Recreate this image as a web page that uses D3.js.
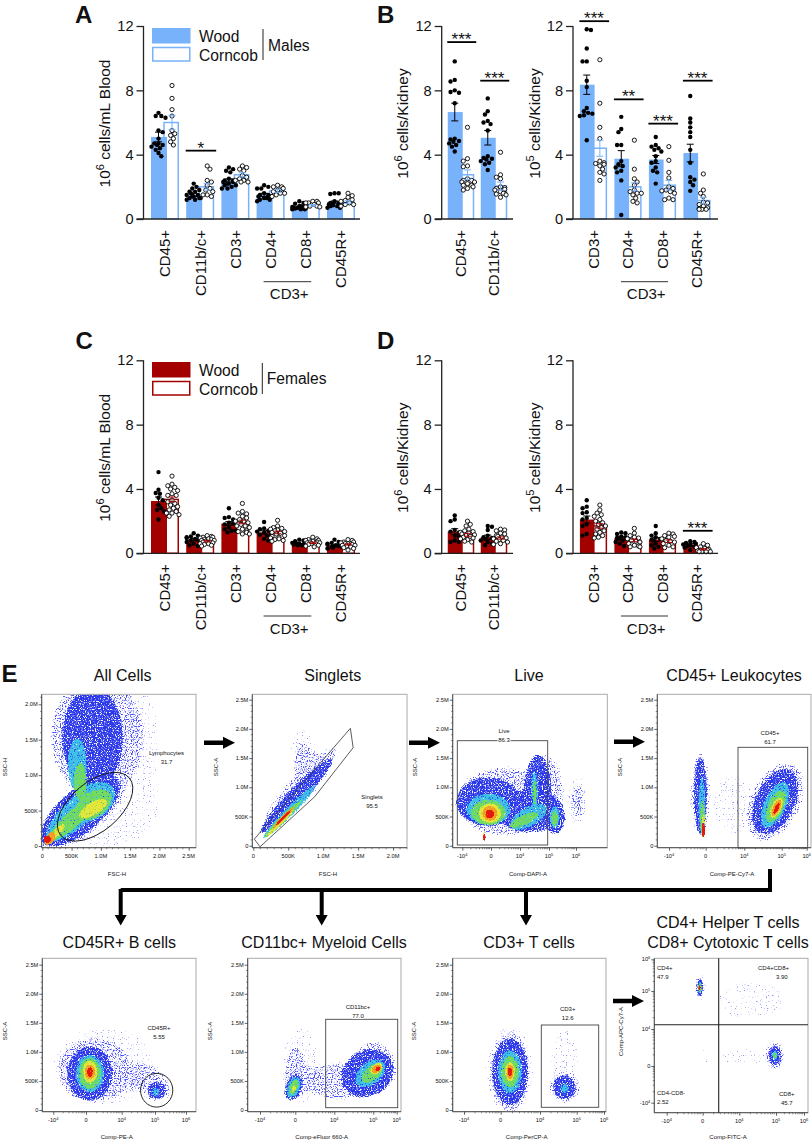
<!DOCTYPE html>
<html><head><meta charset="utf-8">
<script src="https://d3js.org/d3.v7.min.js"></script>
<style>
html,body{margin:0;padding:0;background:#fff}
svg{display:block}
text{font-family:"Liberation Sans",Arial,sans-serif;fill:#111}
</style></head><body>
<svg id="fig" width="812" height="1141"></svg>
<script>
// ---------- categories ----------
const bloodCats=["CD45+","CD11b/c+","CD3+","CD4+","CD8+","CD45R+"];
const leukCats=["CD45+","CD11b/c+"];
const tCats=["CD3+","CD4+","CD8+","CD45R+"];
const yTicks=[0,4,8,12];

// ---------- Panel A: male blood ----------
const aWoodMean=[5.1,1.5,2.4,1.5,0.7,1.05];
const aCornMean=[6.0,2.0,2.75,1.75,0.85,1.05];
const aWoodErr=[0.3,0.1,0.1,0.1,0.04,0.07];
const aCornErr=[0.45,0.2,0.13,0.09,0.05,0.08];
const aWoodPts=[[6.6,6.4,6.4,6.3,5.5,5.4,5.0,4.7,4.7,4.6,4.6,4.5,4.4,4.3,4.1,3.9],
[2.2,2.0,1.9,1.8,1.7,1.7,1.6,1.5,1.5,1.4,1.4,1.3,1.3,1.3,1.2,1.2],
[3.2,3.1,3.0,2.9,2.5,2.4,2.4,2.3,2.3,2.2,2.2,2.1,2.1,2.0,1.9,1.9],
[2.1,2.0,1.9,1.9,1.6,1.5,1.5,1.4,1.4,1.4,1.3,1.3,1.2,1.2,1.1],
[1.1,1.0,0.95,0.9,0.8,0.8,0.75,0.75,0.7,0.7,0.7,0.65,0.65,0.6,0.6,0.6],
[1.6,1.6,1.55,1.1,1.0,1.0,0.95,0.9,0.9,0.85,0.85,0.8,0.8,0.7,0.7]];
const aCornPts=[[8.3,7.5,6.8,6.4,5.5,5.3,5.2,5.0,4.8,4.6],
[3.3,3.1,2.4,2.3,2.1,1.9,1.8,1.7,1.5,1.5,1.4],
[3.3,3.2,3.1,3.0,2.7,2.6,2.5,2.4,2.4,2.3,2.3],
[2.1,2.0,2.0,1.9,1.8,1.7,1.6,1.6,1.5,1.4],
[1.1,1.1,1.0,1.0,1.0,0.9,0.8,0.8,0.75,0.75],
[1.6,1.45,1.35,1.2,1.15,1.1,1.0,0.9,0.9,0.8]];

// ---------- Panel B: male kidney ----------
const bLeukWoodMean=[6.65,5.05], bLeukCornMean=[2.75,2.05];
const bLeukWoodErr=[0.55,0.45], bLeukCornErr=[0.3,0.25];
const bLeukWoodPts=[[9.8,8.65,8.55,8.0,7.9,7.85,7.2,5.0,4.95,4.85,4.8,4.7,4.6,4.5,4.2],
[7.5,6.7,6.5,6.1,6.0,5.9,5.5,3.9,3.8,3.75,3.7,3.6,3.5,3.4,3.05]];
const bLeukCornPts=[[5.7,3.75,3.6,3.3,3.25,2.5,2.4,2.4,2.3,2.3,2.2,2.1,2.1,2.0,1.9,1.8],
[4.15,2.75,2.6,2.5,2.0,1.95,1.9,1.85,1.8,1.7,1.6,1.6,1.55,1.5,1.35]];
const bTWoodMean=[8.35,3.75,3.7,4.1], bTCornMean=[4.4,2.0,2.1,1.15];
const bTWoodErr=[0.6,0.5,0.25,0.55], bTCornErr=[0.5,0.25,0.3,0.2];
const bTWoodPts=[[11.8,11.75,10.6,9.8,9.8,8.6,8.2,6.9,6.7,6.6,6.55,6.45,6.4,4.9],
[6.35,5.6,5.4,4.6,4.6,3.6,3.4,3.3,3.2,3.0,2.9,2.4,0.25],
[5.1,4.6,4.5,4.4,4.3,4.2,3.9,3.6,3.5,3.2,3.0,2.9,2.2],
[7.65,6.25,6.0,5.7,5.4,5.1,4.3,3.5,2.6,2.45,2.3,2.1,1.75]];
const bTCornPts=[[9.9,7.2,5.7,5.0,3.6,3.5,3.45,3.4,3.3,3.1,2.9,2.8,2.4],
[4.9,3.1,2.5,2.3,2.1,1.8,1.7,1.6,1.6,1.5,1.3,1.1,1.0],
[4.5,3.65,2.9,2.55,2.0,1.9,1.8,1.75,1.7,1.6,1.3,1.2,1.2],
[2.8,1.8,1.6,1.4,1.05,1.0,0.9,0.8,0.7,0.65,0.6,0.6,0.6]];

// ---------- Panel C: female blood ----------
const cWoodMean=[3.25,0.85,1.85,1.3,0.55,0.5];
const cCornMean=[3.35,0.75,1.95,1.3,0.65,0.55];
const cWoodErr=[0.25,0.07,0.12,0.1,0.04,0.04];
const cCornErr=[0.15,0.04,0.11,0.08,0.04,0.04];
const cWoodPts=[[5.05,3.95,3.75,3.7,3.45,3.3,3.0,2.8,2.7,2.6,2.1],
[1.25,1.1,1.05,1.0,0.95,0.9,0.9,0.85,0.8,0.75,0.7,0.6,0.5,0.45],
[2.8,2.25,2.2,2.1,1.9,1.85,1.8,1.6,1.5,1.4,1.4,1.3],
[1.95,1.55,1.5,1.4,1.35,1.3,1.2,1.15,1.1,1.0,0.9,0.8],
[0.85,0.8,0.75,0.7,0.65,0.6,0.6,0.55,0.55,0.5,0.5,0.5],
[0.85,0.7,0.65,0.6,0.55,0.5,0.5,0.45,0.4,0.4,0.35,0.3]];
const cCornPts=[[4.8,4.3,4.2,4.1,4.0,3.9,3.7,3.6,3.6,3.3,3.2,3.1,3.0,2.9,2.8,2.7,2.6,2.5,2.5,2.4,2.3],
[1.1,1.05,1.0,1.0,0.95,0.9,0.85,0.85,0.8,0.8,0.75,0.7,0.7,0.65,0.6,0.6,0.55,0.5,0.45],
[3.1,2.6,2.5,2.45,2.3,2.2,2.1,2.0,2.0,1.9,1.8,1.7,1.7,1.6,1.5,1.4,1.35,1.3,1.2,1.2],
[2.05,1.7,1.6,1.55,1.5,1.45,1.4,1.35,1.3,1.25,1.2,1.1,1.05,1.0,0.95,0.9,0.85,0.8,0.75],
[1.0,0.9,0.85,0.8,0.8,0.75,0.7,0.7,0.65,0.65,0.6,0.6,0.55,0.5,0.45,0.4],
[0.85,0.8,0.7,0.7,0.65,0.6,0.6,0.55,0.5,0.5,0.45,0.4,0.35,0.3,0.2]];

// ---------- Panel D: female kidney ----------
const dLeukWoodMean=[1.35,1.0], dLeukCornMean=[1.15,0.95];
const dLeukWoodErr=[0.18,0.13], dLeukCornErr=[0.09,0.07];
const dLeukWoodPts=[[2.35,2.1,2.0,1.45,1.35,1.3,1.1,1.0,0.8,0.7,0.7],
[1.7,1.65,1.45,1.1,1.0,0.95,0.9,0.8,0.7,0.6,0.5]];
const dLeukCornPts=[[2.0,1.8,1.7,1.5,1.4,1.35,1.3,1.25,1.2,1.15,1.1,1.05,1.0,0.95,0.9,0.85,0.75,0.7],
[1.5,1.45,1.4,1.25,1.2,1.1,1.05,1.0,0.95,0.9,0.85,0.8,0.75,0.7,0.6,0.55]];
const dTWoodMean=[2.1,0.95,0.85,0.55], dTCornMean=[1.7,0.8,0.75,0.25];
const dTWoodErr=[0.22,0.08,0.12,0.05], dTCornErr=[0.14,0.08,0.08,0.04];
const dTWoodPts=[[3.3,2.9,2.8,2.55,2.5,2.2,2.1,1.8,1.7,1.2,1.1],
[1.3,1.25,1.2,1.05,1.0,0.95,0.9,0.8,0.7,0.6,0.45],
[1.7,1.25,1.1,1.0,0.9,0.85,0.8,0.6,0.5,0.4,0.3],
[0.75,0.7,0.65,0.6,0.55,0.5,0.45,0.4,0.35,0.3,0.2]];
const dTCornPts=[[3.0,2.7,2.5,2.4,2.3,2.1,2.0,1.9,1.8,1.7,1.6,1.5,1.4,1.3,1.2,1.1,1.0,0.95],
[1.55,1.25,1.1,1.0,0.95,0.9,0.8,0.75,0.7,0.6,0.5,0.45,0.4,0.4],
[1.25,1.2,1.1,1.05,1.0,0.9,0.8,0.75,0.7,0.6,0.5,0.4,0.35],
[0.6,0.5,0.4,0.35,0.3,0.25,0.2,0.2,0.15,0.1,0.1,0.1,0.1]];

// ---------- significance: [category, height on value axis, label] ----------
const aSig=[["CD11b/c+",4.25,"*"]];
const bLeukSig=[["CD45+",11,"***"],["CD11b/c+",8.6,"***"]];
const bTSig=[["CD3+",12.3,"***"],["CD4+",7.44,"**"],["CD8+",5.93,"***"],["CD45R+",8.6,"***"]];
const dTSig=[["CD45R+",1.4,"***"]];

// ---------- flow: tick labels ----------
const linearMillions=[0,0.5,1,1.5,2,2.5];
const linearLabels=["0","500K","1.0M","1.5M","2.0M","2.5M"];
const decades=[-1,0,1,2,3];
const decadeLabels=[["-10","4"],["0",""],["10","4"],["10","5"],["10","6"]];

const BLUE="#77b2fb", RED="#a30000";
const svg=d3.select("#fig");
const defs=svg.append("defs");

// ---------- swarm: spreads equal values sideways (no randomness) ----------
function swarm(vals,y,maxOff){
  const placed=[],d=3.9,s=1.4;
  return [...vals].sort((a,b)=>b-a).map((v,i)=>{
    const py=y(v); let best=null;
    const sign=i%2?1:-1;
    for(let k=0;k*s<=maxOff&&best===null;k++){
      for(const c of k?[sign*k*s,-sign*k*s]:[0]){
        if(placed.every(p=>Math.hypot(p.x-c,p.y-py)>=d)){best=c;break;}
      }
    }
    const off=best===null?(sign*((i%5)+1)*maxOff/5):best;
    placed.push({x:off,y:py});
    return {v,off};
  });
}

function barPanel(p){
  const g=svg.append("g");
  const y=d3.scaleLinear().domain([0,12]).range([p.y0,p.yTop]);
  const step=p.step;
  const x=d3.scaleBand().domain(p.cats).range([p.c0-step/2,p.c0-step/2+step*p.cats.length]);
  const cx=c=>x(c)+step/2;
  const half=(p.woodW+p.cornW)/2;
  const woodX=c=>cx(c)-half, cornX=c=>cx(c)-half+p.woodW;
  p.cats.forEach((c,i)=>{
    g.append("rect").attr("x",cornX(c)-3).attr("y",y(p.cornMean[i])).attr("width",p.cornW+3-0.75)
      .attr("height",y(0)-y(p.cornMean[i])).attr("fill","#fff").attr("stroke",p.color).attr("stroke-width",1.5);
    g.append("rect").attr("x",woodX(c)).attr("y",y(p.woodMean[i])).attr("width",p.woodW)
      .attr("height",y(0)-y(p.woodMean[i])).attr("fill",p.color);
    const wc=woodX(c)+p.woodW/2-0.5, cc=cornX(c)+p.cornW/2-1;
    g.selectAll(null).data(swarm(p.woodPts[i],y,7)).join("circle")
      .attr("cx",d=>wc+d.off).attr("cy",d=>y(d.v)).attr("r",2.2).attr("fill","#000");
    g.selectAll(null).data(swarm(p.cornPts[i],y,7)).join("circle")
      .attr("cx",d=>cc+d.off).attr("cy",d=>y(d.v)).attr("r",2.1).attr("fill","#fff").attr("stroke","#000").attr("stroke-width",0.9);
    [[wc,p.woodMean[i],p.woodErr[i],"#000"],[cc,p.cornMean[i],p.cornErr[i],p.color]].forEach(([xx,m,e,col])=>{
      const l=g.append("g").attr("stroke",col).attr("stroke-width",1);
      l.append("line").attr("x1",xx).attr("x2",xx).attr("y1",y(m-e)).attr("y2",y(m+e));
      [m-e,m+e].forEach(v=>l.append("line").attr("x1",xx-3.5).attr("x2",xx+3.5).attr("y1",y(v)).attr("y2",y(v)));
    });
  });
  const ay=g.append("g").attr("transform",`translate(${p.ax},0)`)
    .call(d3.axisLeft(y).tickValues(yTicks).tickSize(7).tickPadding(3));
  ay.selectAll("text").attr("font-size",14.6).attr("fill","#111");
  ay.selectAll("line,path").attr("stroke","#222").attr("stroke-width",1.3);
  ay.select(".domain").attr("d",`M0,${p.yTop}V${p.y0}`);
  g.append("line").attr("x1",p.ax-7).attr("x2",p.xEnd).attr("y1",y(0)).attr("y2",y(0)).attr("stroke","#222").attr("stroke-width",1.3);
  const ax=g.append("g").attr("transform",`translate(0,${p.y0})`).call(d3.axisBottom(x).tickSize(0));
  ax.select(".domain").remove();
  ax.selectAll("text").attr("font-size",15).attr("fill","#111").attr("transform","rotate(-90)")
    .attr("text-anchor","end").attr("x",-11).attr("y",0).attr("dy","0.36em");
  const t=g.append("text").attr("transform",`translate(${p.titleX},${(p.y0+p.yTop)/2+1}) rotate(-90)`)
    .attr("text-anchor","middle").attr("font-size",15.5);
  t.append("tspan").text("10");
  t.append("tspan").attr("dy",-6).attr("font-size",11).text(p.exp);
  t.append("tspan").attr("dy",6).text(" "+p.unit);
  (p.sig||[]).forEach(([c,v,lab])=>{
    g.append("line").attr("x1",cx(c)-half-0.5).attr("x2",cx(c)+half+2).attr("y1",y(v)).attr("y2",y(v))
      .attr("stroke","#000").attr("stroke-width",1.8);
    g.append("text").attr("x",cx(c)+0.5).attr("y",y(v)+3).attr("text-anchor","middle").attr("font-size",17).text(lab);
  });
  if(p.cats.includes("CD4+")){
    const yy=p.y0+62.7;
    g.append("line").attr("x1",cx("CD4+")-7).attr("x2",cx("CD8+")+5.5).attr("y1",yy).attr("y2",yy).attr("stroke","#333").attr("stroke-width",1);
    g.append("text").attr("x",(cx("CD4+")+cx("CD8+"))/2+1).attr("y",yy+17.5).attr("text-anchor","middle").attr("font-size",15).text("CD3+");
  }
}

const rowA={yTop:26,y0:219}, rowC={yTop:360.3,y0:553.3};
barPanel({...rowA,cats:bloodCats,ax:143.5,xEnd:360,c0:165,step:35.2,woodW:16,cornW:12,titleX:110,exp:"6",unit:"cells/mL Blood",color:BLUE,
  woodMean:aWoodMean,cornMean:aCornMean,woodErr:aWoodErr,cornErr:aCornErr,woodPts:aWoodPts,cornPts:aCornPts,sig:aSig});
barPanel({...rowA,cats:leukCats,ax:441.7,xEnd:513,c0:461,step:33,woodW:15,cornW:11.5,titleX:408,exp:"6",unit:"cells/Kidney",color:BLUE,
  woodMean:bLeukWoodMean,cornMean:bLeukCornMean,woodErr:bLeukWoodErr,cornErr:bLeukCornErr,woodPts:bLeukWoodPts,cornPts:bLeukCornPts,sig:bLeukSig});
barPanel({...rowA,cats:tCats,ax:573,xEnd:718,c0:593.5,step:34.5,woodW:14.7,cornW:12.5,titleX:540,exp:"5",unit:"cells/Kidney",color:BLUE,
  woodMean:bTWoodMean,cornMean:bTCornMean,woodErr:bTWoodErr,cornErr:bTCornErr,woodPts:bTWoodPts,cornPts:bTCornPts,sig:bTSig});
barPanel({...rowC,cats:bloodCats,ax:143.5,xEnd:360,c0:165,step:35.2,woodW:16,cornW:12,titleX:110,exp:"6",unit:"cells/mL Blood",color:RED,
  woodMean:cWoodMean,cornMean:cCornMean,woodErr:cWoodErr,cornErr:cCornErr,woodPts:cWoodPts,cornPts:cCornPts});
barPanel({...rowC,cats:leukCats,ax:441.7,xEnd:513,c0:461,step:33,woodW:15,cornW:11.5,titleX:408,exp:"6",unit:"cells/Kidney",color:RED,
  woodMean:dLeukWoodMean,cornMean:dLeukCornMean,woodErr:dLeukWoodErr,cornErr:dLeukCornErr,woodPts:dLeukWoodPts,cornPts:dLeukCornPts});
barPanel({...rowC,cats:tCats,ax:573,xEnd:718,c0:593.5,step:34.5,woodW:14.7,cornW:12.5,titleX:540,exp:"5",unit:"cells/Kidney",color:RED,
  woodMean:dTWoodMean,cornMean:dTCornMean,woodErr:dTWoodErr,cornErr:dTCornErr,woodPts:dTWoodPts,cornPts:dTCornPts,sig:dTSig});

function legend(top,color,label,lineX,labX,base){
  const g=svg.append("g");
  g.append("rect").attr("x",152).attr("y",top).attr("width",38.5).attr("height",15.5).attr("fill",color);
  g.append("rect").attr("x",152.75).attr("y",top+19.5).attr("width",37).attr("height",13.5).attr("fill","#fff").attr("stroke",color).attr("stroke-width",1.5);
  g.append("text").attr("x",199).attr("y",top+14).attr("font-size",15.6).text("Wood");
  g.append("text").attr("x",199).attr("y",top+32.5).attr("font-size",15.6).text("Corncob");
  g.append("line").attr("x1",lineX).attr("x2",lineX).attr("y1",top+1).attr("y2",top+32).attr("stroke","#222").attr("stroke-width",1);
  g.append("text").attr("x",labX).attr("y",base).attr("font-size",15.6).text(label);
}
legend(28,BLUE,"Males",263,268,51);
legend(362,RED,"Females",262.3,266.7,384);

[["A",75,23],["B",377,23],["C",75.5,349],["D",377,349],["E",1.5,681.5]].forEach(([s,x,y])=>
  svg.append("text").attr("x",x).attr("y",y).attr("font-size",24).attr("font-weight","bold").attr("fill","#000").text(s));

[["All Cells",122.7,681],["Singlets",332.7,681],["Live",529,681],["CD45+ Leukocytes",734,681],
 ["CD45R+ B cells",119.3,948],["CD11bc+ Myeloid Cells",324,948],["CD3+ T cells",529,948],
 ["CD4+ Helper T cells",728,928],["CD8+ Cytotoxic T cells",728,948]].forEach(([s,x,y])=>
  svg.append("text").attr("x",x).attr("y",y).attr("text-anchor","middle").attr("font-size",16).text(s));

// ---------- texture filters: grainy density falloff ----------
function speckle(id,color,thresh,blur,seed){
  const f=defs.append("filter").attr("id",id).attr("filterUnits","userSpaceOnUse").attr("x",0).attr("y",660).attr("width",812).attr("height",481).attr("color-interpolation-filters","sRGB");
  f.append("feGaussianBlur").attr("in","SourceAlpha").attr("stdDeviation",blur).attr("result","b");
  f.append("feTurbulence").attr("type","fractalNoise").attr("baseFrequency",0.83).attr("numOctaves",1).attr("seed",seed).attr("result","n0");
  f.append("feColorMatrix").attr("in","n0").attr("type","matrix").attr("values","0 0 0 0 0  0 0 0 0 0  0 0 0 0 0  1 0 0 0 0").attr("result","n");
  f.append("feComposite").attr("in","b").attr("in2","n").attr("operator","arithmetic").attr("k1",0).attr("k2",1.25).attr("k3",1).attr("k4",-1).attr("result","s");
  f.append("feColorMatrix").attr("in","s").attr("type","matrix").attr("values",`0 0 0 0 0  0 0 0 0 0  0 0 0 0 0  0 0 0 7 ${-7*thresh}`).attr("result","m");
  f.append("feFlood").attr("flood-color",color).attr("result","c");
  f.append("feComposite").attr("in","c").attr("in2","m").attr("operator","in").attr("result","o");
  f.append("feGaussianBlur").attr("in","o").attr("stdDeviation",0.35);
}
const levelStyle={faint:["#5b60f7",0.9,2.5,23],sparse:["#474cf5",0.76,3,2],blue:["#2a38ea",0.6,1.6,5],cyan:["#3cc3e6",0.56,1.3,9],green:["#74dc58",0.54,1.1,11],yellow:["#e6e63a",0.5,0.9,13],orange:["#f59a22",0.48,0.7,17],red:["#e41a0c",0.45,0.6,19]};
const levels=Object.keys(levelStyle);
levels.forEach(k=>{const [c,t,b,s]=levelStyle[k]; speckle("lv-"+k,c,t,b,s);});

// density regions: [level, x%, y%, x-radius%, y-radius%, rotation]
const cloudsAll=[["faint",62,60,16,45,5],["faint",45,30,36,32,-30],["sparse",36,72,33,42,0],["sparse",27,23.5,38,17,-40],["blue",33,72,21,34,0],["blue",25,24,33,15,-40],
["cyan",23,54,7,18,0],["cyan",23,23,27,10,-42],["cyan",33,30,17,12,-35],["green",25,43,5,13,0],["green",20.5,19,22,6,-42],["green",33.5,28,14,9,-35],
["yellow",33.5,25.6,11,5,-30],["yellow",10,10,8,3,-50],["orange",5.4,6,5,3,-55],["red",3.7,5.4,2.5,2.5,-60]];
const cloudsSinglets=[["faint",35,55,12,26,-8],["sparse",30.7,38.7,38,11,-48],["sparse",34,54,10,18,-8],["blue",28.6,34,35,6.5,-46],["cyan",24,23.5,25,3.8,-45],
["green",20,19,19,2.8,-45],["yellow",18,16,14,2,-45],["orange",20,19.5,10,1.4,-45],["red",20,19.5,7,1,-45]];
const cloudsLive=[["faint",80,30,10,18,0],["faint",85,32,3,22,0],["sparse",33,30,33,25,0],["sparse",60,38,14,25,0],["sparse",80,30,6,14,0],["sparse",85,32,2.5,17,0],
["blue",23,30,22,17,0],["blue",50,24,23,15,0],["blue",55,36,10,26,0],["blue",66,19,8,11,0],
["cyan",23,25,15,11,0],["cyan",49,20,14,7,-30],["cyan",53,38,3,13,0],["cyan",66,20,4,8,0],
["green",23,23,12,9,0],["green",46,18,11,4,-25],["green",53,36,2,10,0],["green",66,19,3,6,0],["yellow",24,22.4,8,7,0],["orange",24,22.4,5,5,0],["red",24,22,3,3,0],["yellow",20.5,8,1.4,4,0],["red",20.5,7,0.9,2.5,0]];
const cloudsLeuk=[["faint",50,28,16,22,0],["sparse",28,34,9,31,0],["sparse",76.6,30,19,30,25],["blue",28,34,5.5,27,0],["cyan",29,28,3,20,0],["green",29.5,19,2.5,13,0],["yellow",30,15,1.7,9,0],["red",30,11.5,1.2,5,0],
["blue",76.6,30,14,24,25],["cyan",76.6,28,8,17,25],["green",77,27,6,12,25],["yellow",77.5,26,4,8,25],["orange",77.5,26,2.5,6,25],["red",77.6,25.6,1.5,4,25]];
const cloudsB=[["faint",40,30,35,28,0],["sparse",34,27,27,24,0],["sparse",59,23,23,12,0],["blue",31,25,16,19,0],["cyan",31,25,10,13,0],["green",31,25,8,11,0],["yellow",31,26,5.5,8,0],["orange",31,26,3.5,5,0],["red",31,26,2,3.5,0],
["sparse",74.4,15,12,11,0],["blue",74.4,14,7,7,0],["cyan",74,13,3,3.5,0]];
const cloudsMyeloid=[["faint",35,30,15,28,0],["sparse",31,25,10,20,0],["sparse",58,20,24,15,0],["sparse",82,28,18,20,0],["blue",30,16,6.5,10,20],["cyan",30,16,5,8,20],["green",30,16,3.5,6,20],["yellow",30,15,2,3.5,20],
["blue",78,25,19,16,-30],["cyan",80,25,12,8,-40],["green",81,25,9,5.5,-40],["yellow",84,28,5.5,3.8,-40],["orange",84,28,3.5,2.5,-40],["red",85,28,2,1.5,-40]];
const cloudsT=[["faint",37,27,18,32,0],["sparse",37.4,26,16,29,0],["blue",37.4,26,13,23,0],["cyan",37.4,26,8.5,15,0],["green",37.4,26,6.5,11,0],["yellow",37.4,26,4,7,0],["orange",37.4,26,2.5,5,0],["red",37.4,26,1.6,3,0],
["faint",73,32,12,24,0],["sparse",73,16,13,13,0],["blue",73,16,8.5,9,0],["cyan",73,15,3.5,4,0]];
const cloudsHelper=[["faint",30,81,7,12,0],["sparse",30,81,5,9,0],["blue",29.6,81,3.5,7.5,0],["cyan",29.6,81,2.2,5,0],["green",29.6,81,1.9,4,0],["yellow",29.4,81,1.2,2.7,0],["red",29.4,81,0.9,1.7,0],
["faint",63,73,24,15,0],["faint",59,36,20,8,0],["faint",34,38,5,11,0],["sparse",34,38,3,7,0],["sparse",78.4,37,9,12,0],["blue",78.4,37,5.5,7.5,0],["cyan",78.4,37,2.8,4,0],["green",78.4,37,2,3,0]];

const flowPlots=[
 {l:41.7,r:196,t:694.3,b:847.7,xKind:"lin",xPx:[42.3,188.7],yPx:[846,668.9],yKind:"lin",xT:"FSC-H",xTx:117,yT:"SSC-H",yTx:5,clouds:cloudsAll,
  gateLab:[["Lymphocytes",166.5,755],["31.7",166.5,764]],gate:{ell:[34.6,26.7,29,16,-40]}},
 {l:252.3,r:407,t:694.3,b:847.7,xKind:"lin",xPx:[253.3,428],yPx:[845.7,699.7],yKind:"lin",xT:"FSC-H",xTx:328,yT:"SSC-A",yTx:216,clouds:cloudsSinglets,
  gateLab:[["Singlets",372,798.5],["95.5",372,807.5]],gate:{poly:[[1.3,5.6],[63.4,77.8],[65.2,65.2],[40.4,33.3],[5,0.6]]}},
 {l:452.7,r:607.3,t:694.3,b:847.7,xKind:"log",xPx:[462.3,491,520,549,576],yPx:[845.7,699.7],yKind:"lin",xT:"Comp-DAPI-A",xTx:528,yT:"SSC-A",yTx:415,clouds:cloudsLive,
  gateLab:[["Live",504,732.5],["86.3",504,741.5]],gate:{rect:[457.3,547.7,740.7,845]}},
 {l:657.3,r:811,t:694.3,b:847.7,xKind:"log",xPx:[669,705.7,744.3,781.7,806.7],yPx:[845.7,699.7],yKind:"lin",xT:"Comp-PE-Cy7-A",xTx:732,yT:"SSC-A",yTx:620,clouds:cloudsLeuk,
  gateLab:[["CD45+",770,735],["61.7",770,744]],gate:{rect:[738,807.7,747.3,848]}},
 {l:42.3,r:196,t:958.3,b:1111.7,xKind:"log",xPx:[53.3,86,121.7,155,186],yPx:[1110,964.7],yKind:"lin",xT:"Comp-PE-A",xTx:116.7,yT:"SSC-A",yTx:4.5,clouds:cloudsB,
  gateLab:[["CD45R+",159,1029.5],["5.55",159,1038.5]],gate:{ell:[74.4,14,10.5,11,0]}},
 {l:247.7,r:401,t:958.3,b:1111.7,xKind:"log",xPx:[260,295.3,334.3,373.3,396.7],yPx:[1110,964.7],yKind:"lin",xT:"Comp-eFluor 660-A",xTx:321.7,yT:"SSC-A",yTx:210,clouds:cloudsMyeloid,
  gateLab:[["CD11bc+",358,1008.5],["77.0",358,1017.5]],gate:{rect:[325.7,397.7,1019.3,1107.7]}},
 {l:452.7,r:606,t:958.3,b:1111.7,xKind:"log",xPx:[464,500.7,540,576.7,604],yPx:[1110,964.7],yKind:"lin",xT:"Comp-PerCP-A",xTx:526.7,yT:"SSC-A",yTx:414,clouds:cloudsT,
  gateLab:[["CD3+",567.7,1011],["12.6",567.7,1020]],gate:{rect:[541.3,598.7,1025,1107.3]}},
 {l:654.3,r:808,t:958.3,b:1112.7,xKind:"log",xPx:[666.7,702.7,739.3,776,804],yPx:[1102.7,1066,1029,991,959.3],yKind:"log",xT:"Comp-FITC-A",xTx:728,yT:"Comp-APC-Cy7-A",yTx:621,clouds:cloudsHelper,
  gateLab:[],quad:[718.7,1024.7],quadLab:[["CD4+",657,970,"start"],["47.9",657,979,"start"],["CD4+CD8+",758,970,"start"],["3.90",776,979,"start"],["CD4-CD8-",657,1095,"start"],["2.52",657,1104,"start"],["CD8+",779,1096,"start"],["45.7",781,1105,"start"]]}
];

const TICK_FS=5.7, LAB_FS=6;
function flowPlot(p,i){
  const g=svg.append("g");
  const pctX=d3.scaleLinear().domain([0,100]).range([p.l,p.r]);
  const pctY=d3.scaleLinear().domain([0,100]).range([p.b,p.t]);
  const clipId="clip"+i;
  defs.append("clipPath").attr("id",clipId).append("rect").attr("x",p.l).attr("y",p.t).attr("width",p.r-p.l).attr("height",p.b-p.t);
  const frame=g.append("g").attr("clip-path",`url(#${clipId})`);
  levels.forEach(lv=>{
    const items=p.clouds.filter(c=>c[0]===lv);
    if(!items.length) return;
    frame.append("g").attr("filter",`url(#lv-${lv})`)
      .selectAll("ellipse").data(items).join("ellipse")
      .attr("transform",d=>`translate(${pctX(d[1])},${pctY(d[2])}) rotate(${d[5]})`)
      .attr("rx",d=>d[3]*(p.r-p.l)/100).attr("ry",d=>d[4]*(p.b-p.t)/100).attr("fill","#000");
  });
  g.append("rect").attr("x",p.l).attr("y",p.t).attr("width",p.r-p.l).attr("height",p.b-p.t).attr("fill","none").attr("stroke","#aaa").attr("stroke-width",1);

  const xS=p.xKind==="lin"?d3.scaleLinear().domain([0,2.5]).range(p.xPx):d3.scaleLinear().domain(decades).range(p.xPx);
  const yS=p.yKind==="lin"?d3.scaleLinear().domain([0,2.5]).range(p.yPx):d3.scaleLinear().domain(decades).range(p.yPx);
  function drawAxis(orient,s,kind,pos){
    const lo=orient==="b"?p.l:p.t, hi=orient==="b"?p.r:p.b;
    const inside=v=>s(v)>=lo-1&&s(v)<=hi+1;
    const allMajors=kind==="lin"?linearMillions:decades;
    const majors=allMajors.filter(inside);
    const A=orient==="b"?d3.axisBottom(s):d3.axisLeft(s);
    A.tickValues(majors).tickSize(3).tickPadding(3).tickFormat(()=>"");
    const ag=g.append("g").attr("transform",orient==="b"?`translate(0,${pos})`:`translate(${pos},0)`).call(A);
    ag.selectAll("line,path").attr("stroke","#222").attr("stroke-width",0.7);
    ag.select(".domain").attr("d",orient==="b"?`M${p.l},0H${p.r}`:`M0,${p.t}V${p.b}`);
    const minors=[];
    for(let k=0;k<allMajors.length-1;k++){
      const a=allMajors[k],b=allMajors[k+1];
      const fr=kind==="lin"?[.2,.4,.6,.8]:[.3,.48,.6,.7,.78,.85,.9,.95];
      fr.forEach(f=>minors.push(a+(b-a)*f));
    }
    ag.selectAll(null).data(minors.filter(inside)).join("line")
      .attr("x1",d=>orient==="b"?s(d):0).attr("x2",d=>orient==="b"?s(d):-1.6)
      .attr("y1",d=>orient==="b"?0:s(d)).attr("y2",d=>orient==="b"?1.6:s(d)).attr("stroke","#222").attr("stroke-width",0.5);
    const labs=kind==="lin"?linearLabels:decadeLabels;
    allMajors.forEach((m,k)=>{
      if(!inside(m)) return;
      const t=g.append("text").attr("font-size",TICK_FS).attr("fill","#333");
      if(orient==="b") t.attr("x",s(m)).attr("y",pos+10.5).attr("text-anchor","middle");
      else t.attr("x",pos-4).attr("y",s(m)+2).attr("text-anchor","end");
      if(kind==="lin") t.text(labs[k]);
      else{ t.append("tspan").text(labs[k][0]);
        if(labs[k][1]) t.append("tspan").attr("dy",-2).attr("font-size",4).text(labs[k][1]); }
    });
  }
  drawAxis("b",xS,p.xKind,p.b);
  drawAxis("l",yS,p.yKind,p.l);
  g.append("text").attr("x",p.xTx).attr("y",i<4?876:1139).attr("text-anchor","middle").attr("font-size",LAB_FS).attr("fill","#333").text(p.xT);
  g.append("text").attr("transform",`translate(${p.yTx+2},${(p.t+p.b)/2-4}) rotate(-90)`).attr("text-anchor","middle").attr("font-size",LAB_FS).attr("fill","#333").text(p.yT);

  if(p.gate){
    if(p.gate.ell){ const [a,b,c,d,e]=p.gate.ell;
      g.append("ellipse").attr("transform",`translate(${pctX(a)},${pctY(b)}) rotate(${e})`)
       .attr("rx",c*(p.r-p.l)/100).attr("ry",d*(p.b-p.t)/100).attr("fill","none").attr("stroke","#111").attr("stroke-width",0.9);
    }
    if(p.gate.poly){
      g.append("path").attr("d",d3.line().x(d=>pctX(d[0])).y(d=>pctY(d[1])).curve(d3.curveLinearClosed)(p.gate.poly))
       .attr("fill","none").attr("stroke","#333").attr("stroke-width",0.8);
    }
    if(p.gate.rect){ const [a,b,c,d]=p.gate.rect;
      g.append("rect").attr("x",a).attr("y",c).attr("width",b-a).attr("height",d-c).attr("fill","none").attr("stroke","#444").attr("stroke-width",0.9);
    }
  }
  p.gateLab.forEach(([s,x,y])=>g.append("text").attr("x",x).attr("y",y).attr("text-anchor","middle").attr("font-size",LAB_FS).attr("fill","#333")
    .attr("stroke",p.gate.rect?"#fff":"none").attr("stroke-width",2).attr("paint-order","stroke").text(s));
  if(p.quad){
    g.append("line").attr("x1",p.quad[0]).attr("x2",p.quad[0]).attr("y1",p.t).attr("y2",p.b).attr("stroke","#222").attr("stroke-width",1.1);
    g.append("line").attr("x1",p.l).attr("x2",p.r).attr("y1",p.quad[1]).attr("y2",p.quad[1]).attr("stroke","#222").attr("stroke-width",1.1);
    p.quadLab.forEach(([s,x,y,a])=>g.append("text").attr("x",x).attr("y",y).attr("text-anchor",a).attr("font-size",LAB_FS).attr("fill","#333").text(s));
  }
}
flowPlots.forEach(flowPlot);

function arrowH(x1,x2,y){
  svg.append("path").attr("fill","#000").attr("d",`M${x1},${y-2.2}H${x2-12}V${y-6}L${x2},${y}L${x2-12},${y+6}V${y+2.2}H${x1}Z`);
}
function arrowV(x,y1,y2){
  svg.append("path").attr("fill","#000").attr("d",`M${x-2},${y1}H${x+2}V${y2-10.5}H${x+6}L${x},${y2}L${x-6},${y2-10.5}H${x-2}Z`);
}
arrowH(204,235,742.7); arrowH(409,440,742.7); arrowH(614,645,741.7); arrowH(613,644,1001);
svg.append("path").attr("fill","none").attr("stroke","#000").attr("stroke-width",4).attr("d","M770,869V890H120.7");
arrowV(120.7,889,925.5); arrowV(321.7,889,925.5); arrowV(526,889,925.5);
</script>
</body></html>
